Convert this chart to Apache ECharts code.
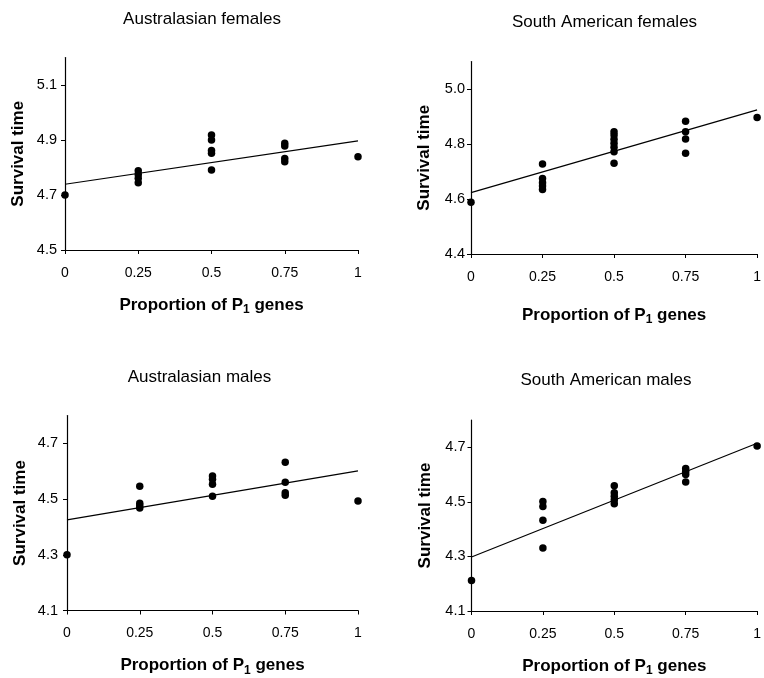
<!DOCTYPE html>
<html>
<head>
<meta charset="utf-8">
<script src="https://cdn.jsdelivr.net/npm/echarts@6/dist/echarts.min.js"></script>
<style>html,body{margin:0;padding:0;background:#fff;}#c{width:764px;height:678px;}</style>
</head>
<body>
<div id="c"></div>
<script>
// ---- data ----
const panelTitles = ['Australasian females', 'South American females', 'Australasian males', 'South American males'];
const xTicks = [0, 0.25, 0.5, 0.75, 1];

const ausFemX = [0, 0.25, 0.25, 0.25, 0.25, 0.5, 0.5, 0.5, 0.5, 0.5, 0.75, 0.75, 0.75, 0.75, 1];
const ausFemY = [4.70, 4.788, 4.775, 4.761, 4.745, 4.918, 4.900, 4.862, 4.852, 4.791, 4.888, 4.878, 4.833, 4.821, 4.839];
const ausFemFit = [4.739, 4.897];
const ausFemYTicks = [4.5, 4.7, 4.9, 5.1];

const saFemX = [0, 0.25, 0.25, 0.25, 0.25, 0.25, 0.5, 0.5, 0.5, 0.5, 0.5, 0.5, 0.5, 0.75, 0.75, 0.75, 0.75, 1];
const saFemY = [4.588, 4.727, 4.675, 4.659, 4.647, 4.635, 4.845, 4.833, 4.817, 4.803, 4.788, 4.772, 4.730, 4.883, 4.845, 4.818, 4.766, 4.896];
const saFemFit = [4.623, 4.924];
const saFemYTicks = [4.4, 4.6, 4.8, 5.0];

const ausMalX = [0, 0.25, 0.25, 0.25, 0.25, 0.5, 0.5, 0.5, 0.5, 0.75, 0.75, 0.75, 0.75, 1];
const ausMalY = [4.30, 4.546, 4.485, 4.476, 4.468, 4.583, 4.571, 4.553, 4.510, 4.632, 4.560, 4.523, 4.514, 4.493];
const ausMalFit = [4.425, 4.601];
const ausMalYTicks = [4.1, 4.3, 4.5, 4.7];

const saMalX = [0, 0.25, 0.25, 0.25, 0.25, 0.5, 0.5, 0.5, 0.5, 0.5, 0.75, 0.75, 0.75, 0.75, 1];
const saMalY = [4.212, 4.501, 4.483, 4.433, 4.331, 4.559, 4.533, 4.521, 4.508, 4.493, 4.622, 4.611, 4.600, 4.573, 4.705];
const saMalFit = [4.298, 4.715];
const saMalYTicks = [4.1, 4.3, 4.5, 4.7];

const yRanges = [[4.5, 5.2], [4.4, 5.1], [4.1, 4.8], [4.1, 4.8]];

// ---- layout ----
const FONT = '"Liberation Sans", Arial, Helvetica, sans-serif';
const grids = [
  {left: 65, top: 57.5, width: 293, height: 192.5},
  {left: 471, top: 61.5, width: 289, height: 192.5},
  {left: 67, top: 415.5, width: 291, height: 195},
  {left: 471.5, top: 420, width: 290, height: 194.5}
];
const titlePos = [[202, 10.5], [604.5, 14], [199.5, 369], [606, 372]];
const xNameGap = [44, 50, 44, 44];
const yLabelMargin = [8, 6, 9, 6];

const panels = [
  {x: ausFemX, y: ausFemY, fit: ausFemFit, ticks: ausFemYTicks},
  {x: saFemX, y: saFemY, fit: saFemFit, ticks: saFemYTicks},
  {x: ausMalX, y: ausMalY, fit: ausMalFit, ticks: ausMalYTicks},
  {x: saMalX, y: saMalY, fit: saMalFit, ticks: saMalYTicks}
];

const axisLine = {show: true, onZero: false, lineStyle: {color: '#000', width: 1.2}};
const axisTick = {show: true, inside: false, length: 4, lineStyle: {color: '#000', width: 1}};

const option = {
  backgroundColor: '#fff',
  animation: false,
  title: panelTitles.map((t, i) => ({
    text: t, left: titlePos[i][0], top: titlePos[i][1], textAlign: 'center', padding: 0,
    textStyle: {fontFamily: FONT, fontSize: 17, fontWeight: 'normal', color: '#000'}
  })),
  grid: grids.map(g => Object.assign({containLabel: false}, g)),
  xAxis: panels.map((p, i) => ({
    type: 'value', gridIndex: i, min: 0, max: 1, interval: 0.25,
    axisLine: axisLine, axisTick: axisTick, splitLine: {show: false},
    axisLabel: {color: '#000', fontFamily: FONT, fontSize: 14, margin: 16,
      customValues: xTicks, formatter: v => String(v)},
    name: 'Proportion of P{sub|1} genes', nameLocation: 'middle', nameGap: xNameGap[i],
    nameTextStyle: {color: '#000', fontFamily: FONT, fontSize: 17, fontWeight: 'bold', lineHeight: 22,
      rich: {sub: {fontFamily: FONT, fontSize: 12, fontWeight: 'bold', lineHeight: 12, verticalAlign: 'bottom', color: '#000'}}}
  })),
  yAxis: panels.map((p, i) => ({
    type: 'value', gridIndex: i, min: yRanges[i][0], max: yRanges[i][1],
    axisLine: axisLine, splitLine: {show: false},
    axisTick: Object.assign({customValues: p.ticks}, axisTick),
    axisLabel: {color: '#000', fontFamily: FONT, fontSize: 14.5, margin: yLabelMargin[i],
      customValues: p.ticks, formatter: v => Number(v).toFixed(1)},
    name: 'Survival time', nameLocation: 'middle', nameGap: 38,
    nameTextStyle: {color: '#000', fontFamily: FONT, fontSize: 17, fontWeight: 'bold'}
  })),
  series: []
};

panels.forEach((p, i) => {
  option.series.push({
    type: 'scatter', xAxisIndex: i, yAxisIndex: i, symbol: 'circle', symbolSize: 7.5,
    itemStyle: {color: '#000', opacity: 1}, clip: false,
    data: p.x.map((xv, k) => [xv, p.y[k]])
  });
  option.series.push({
    type: 'line', xAxisIndex: i, yAxisIndex: i, showSymbol: false, symbol: 'none',
    lineStyle: {color: '#000', width: 1.2}, silent: true,
    data: [[xTicks[0], p.fit[0]], [xTicks[xTicks.length - 1], p.fit[1]]]
  });
});

const chart = echarts.init(document.getElementById('c'), null, {renderer: 'canvas'});
chart.setOption(option);
</script>
</body>
</html>
